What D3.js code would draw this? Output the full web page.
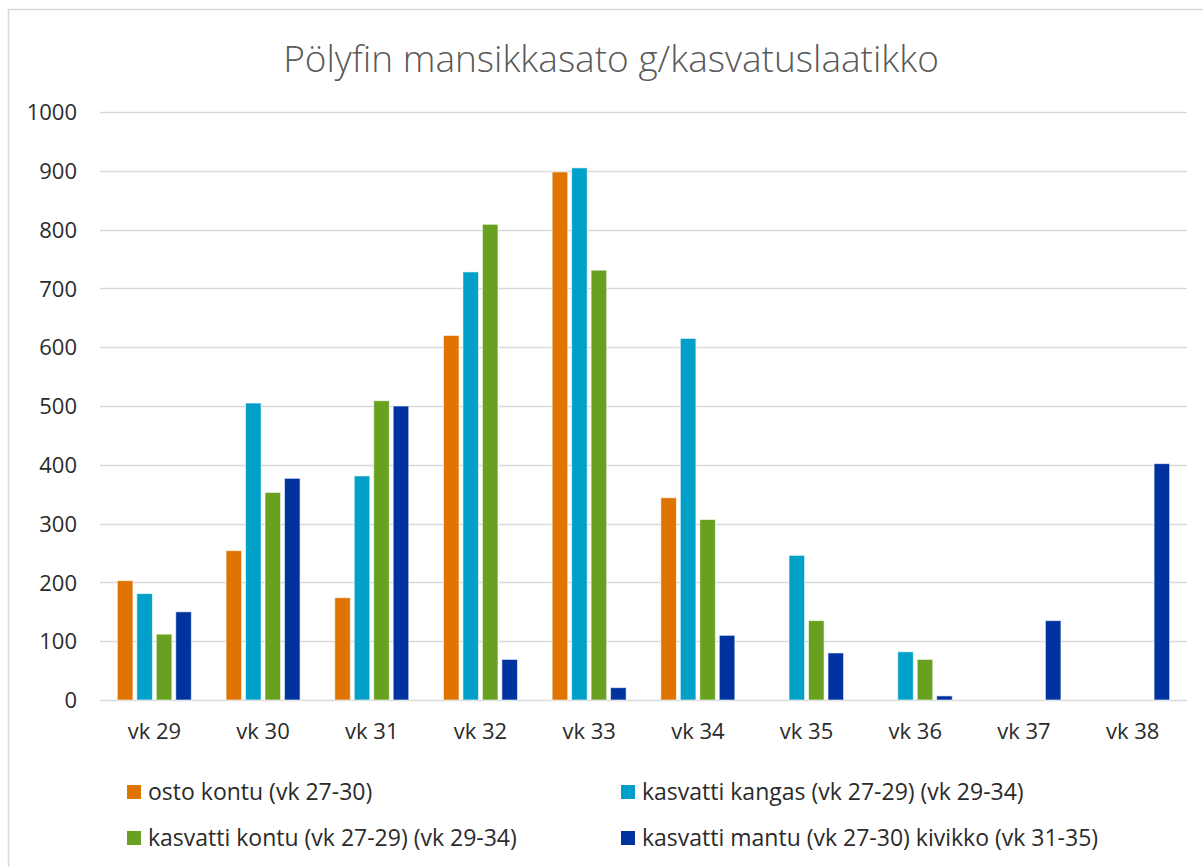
<!DOCTYPE html>
<html>
<head>
<meta charset="utf-8">
<script src="https://cdn.jsdelivr.net/npm/d3@7"></script>
<style>
  body { margin: 0; background: #fff; }
  text { font-family: "Open Sans", "Noto Sans", sans-serif; }
</style>
</head>
<body>
<div id="chart"></div>
<script>
var width = 1203;
var height = 867;

var categories = ["vk 29", "vk 30", "vk 31", "vk 32", "vk 33", "vk 34", "vk 35", "vk 36", "vk 37", "vk 38"];
var seriesNames = [
  "osto kontu (vk 27-30)",
  "kasvatti kangas (vk 27-29) (vk 29-34)",
  "kasvatti kontu (vk 27-29) (vk 29-34)",
  "kasvatti mantu (vk 27-30) kivikko (vk 31-35)"
];
var ostoKontu = [203, 254, 174, 620, 898, 344, null, null, null, null];
var kasvattiKangas = [181, 505, 381, 728, 905, 615, 246, 82, null, null];
var kasvattiKontu = [112, 353, 509, 809, 731, 307, 135, 69, null, null];
var kasvattiMantu = [150, 377, 500, 69, 21, 110, 80, 7, 135, 402];
var yTicks = [0, 100, 200, 300, 400, 500, 600, 700, 800, 900, 1000];
var colors = ["#E07400", "#00A0C8", "#67A11F", "#0033A0"];

var seriesValues = [ostoKontu, kasvattiKangas, kasvattiKontu, kasvattiMantu];

var svg = d3.select("#chart")
  .append("svg")
  .attr("width", width)
  .attr("height", height);

// chart frame
svg.append("path")
  .attr("d", "M8.5," + height + "V9.5H" + width)
  .attr("fill", "none")
  .attr("stroke", "#D9D9D9")
  .attr("stroke-width", 1.5);

// title
svg.append("text")
  .attr("x", 611)
  .attr("y", 72)
  .attr("text-anchor", "middle")
  .style("font-size", "37px")
  .style("font-weight", 300)
  .style("fill", "#595959")
  .text("Pölyfin mansikkasato g/kasvatuslaatikko");

var xScale = d3.scaleBand()
  .domain(categories)
  .range([100, 1187])
  .paddingInner(0)
  .paddingOuter(0);

var groupPad = (xScale.bandwidth() - 74) / 2;
var x1 = d3.scaleBand()
  .domain(d3.range(seriesNames.length))
  .range([groupPad, xScale.bandwidth() - groupPad])
  .paddingInner(0.2);

var yScale = d3.scaleLinear()
  .domain([0, 1000])
  .range([700, 112]);

// gridlines
svg.append("g")
  .selectAll("line")
  .data(yTicks)
  .enter()
  .append("line")
  .attr("x1", 100)
  .attr("x2", 1187)
  .attr("y1", function(d) { return Math.round(yScale(d)) + 0.5; })
  .attr("y2", function(d) { return Math.round(yScale(d)) + 0.5; })
  .attr("stroke", "#D9D9D9")
  .attr("stroke-width", 1.5);

// y axis labels
var yAxis = d3.axisLeft(yScale)
  .tickValues(yTicks)
  .tickFormat(d3.format("d"))
  .tickSize(0)
  .tickPadding(0);
var yG = svg.append("g")
  .attr("transform", "translate(77,0)")
  .call(yAxis);
yG.select(".domain").remove();
yG.selectAll("text")
  .style("font-size", "22px")
  .style("fill", "#2b2b2b")
  .attr("dy", "0.35em");

// x axis labels
var xAxis = d3.axisBottom(xScale).tickSize(0).tickPadding(0);
var xG = svg.append("g")
  .attr("transform", "translate(0,723)")
  .call(xAxis);
xG.select(".domain").remove();
xG.selectAll("text")
  .style("font-size", "22px")
  .style("fill", "#2b2b2b")
  .attr("dy", "0.71em");

// bars
var rows = categories.map(function(c, i) {
  return { cat: c, values: seriesValues.map(function(s) { return s[i]; }) };
});

var groups = svg.append("g")
  .selectAll("g")
  .data(rows)
  .enter()
  .append("g")
  .attr("transform", function(d) { return "translate(" + xScale(d.cat) + ",0)"; });

groups.selectAll("rect")
  .data(function(d) {
    return d.values.map(function(v, j) { return { j: j, v: v }; })
      .filter(function(e) { return e.v != null; });
  })
  .enter()
  .append("rect")
  .attr("x", function(d) { return x1(d.j); })
  .attr("width", x1.bandwidth())
  .attr("y", function(d) { return yScale(d.v); })
  .attr("height", function(d) { return yScale(0) - yScale(d.v); })
  .attr("fill", function(d) { return colors[d.j]; })
  .attr("stroke", "#fff")
  .attr("stroke-opacity", 0.6)
  .attr("stroke-width", 1);

// legend
var legendPos = [[127, 792], [621, 792], [127, 838], [621, 838]];
var legend = svg.append("g")
  .selectAll("g")
  .data(seriesNames)
  .enter()
  .append("g")
  .attr("transform", function(d, i) { return "translate(" + legendPos[i][0] + "," + legendPos[i][1] + ")"; });

legend.append("rect")
  .attr("x", 0)
  .attr("y", -7)
  .attr("width", 14)
  .attr("height", 14)
  .attr("fill", function(d, i) { return colors[i]; });

legend.append("text")
  .attr("x", 21)
  .attr("y", 0)
  .attr("dy", "0.35em")
  .style("font-size", "23px")
  .style("fill", "#2b2b2b")
  .text(function(d) { return d; });
</script>
</body>
</html>
